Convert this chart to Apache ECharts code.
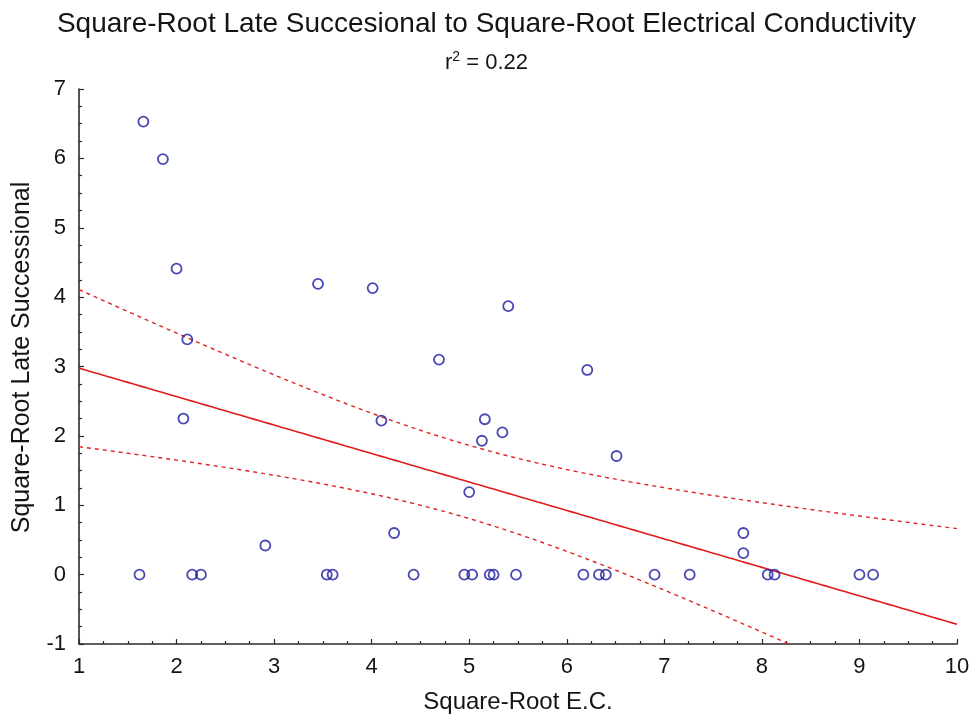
<!DOCTYPE html>
<html>
<head>
<meta charset="utf-8">
<title>Square-Root Late Succesional to Square-Root Electrical Conductivity</title>
<script src="https://cdn.jsdelivr.net/npm/echarts@6/dist/echarts.min.js"></script>
<style>
  html, body { margin: 0; padding: 0; background: #ffffff; }
  #chart { width: 973px; height: 721px; }
</style>
</head>
<body>
<div id="chart"></div>
<script>
// Square-root electrical conductivity (x) and square-root late successional cover (y), one entry per plot
const sqrtEC = [
  1.62, 2.16, 2.25, 3.54, 3.60, 4.43, 4.95, 5.03, 5.21, 5.25,
  5.48, 6.17, 6.33, 6.40, 6.90, 7.26, 8.06, 8.13, 9.00, 9.14,
  1.66, 1.86, 2.00, 2.11, 2.07, 2.91, 3.45, 4.01, 4.10, 4.23,
  4.69, 5.00, 5.13, 5.16, 5.34, 5.40, 6.21, 6.51, 7.81, 7.81
];
const sqrtLateSucc = [
  0, 0, 0, 0, 0, 0, 0, 0, 0, 0,
  0, 0, 0, 0, 0, 0, 0, 0, 0, 0,
  6.53, 5.99, 4.41, 3.39, 2.25, 0.42, 4.19, 4.13, 2.22, 0.60,
  3.10, 1.19, 1.93, 2.24, 2.05, 3.87, 2.95, 1.71, 0.60, 0.31
];

// Axis ranges and tick steps
const xTicks = [1, 10, 1];   // min, max, step
const yTicks = [-1, 7, 1];

// Two-sided 95% Student t value for n - 2 = 38 degrees of freedom
const T_CRIT = 2.024;

const titleText = 'Square-Root Late Succesional to Square-Root Electrical Conductivity';
const xName = 'Square-Root E.C.';
const yName = 'Square-Root Late Successional';

// Least-squares fit with a 95% confidence band for the mean
function linearFit(xs, ys) {
  const n = xs.length;
  const mx = xs.reduce((a, b) => a + b, 0) / n;
  const my = ys.reduce((a, b) => a + b, 0) / n;
  let sxx = 0, sxy = 0, syy = 0;
  for (let i = 0; i < n; i++) {
    sxx += (xs[i] - mx) ** 2;
    sxy += (xs[i] - mx) * (ys[i] - my);
    syy += (ys[i] - my) ** 2;
  }
  const slope = sxy / sxx;
  const intercept = my - slope * mx;
  const s = Math.sqrt((syy - slope * sxy) / (n - 2));
  const r2 = (sxy * sxy) / (sxx * syy);
  return { n, mx, sxx, slope, intercept, s, r2 };
}

const fit = linearFit(sqrtEC, sqrtLateSucc);
const fitLine = [], upperBand = [], lowerBand = [];
for (let k = 0; k <= 180; k++) {
  const x = xTicks[0] + k * (xTicks[1] - xTicks[0]) / 180;
  const yh = fit.intercept + fit.slope * x;
  const half = T_CRIT * fit.s * Math.sqrt(1 / fit.n + (x - fit.mx) ** 2 / fit.sxx);
  fitLine.push([x, yh]);
  upperBand.push([x, yh + half]);
  lowerBand.push([x, yh - half]);
}

const FONT = "Arial, 'Liberation Sans', sans-serif";
const TEXT = '#141414';
const AXIS = '#2a2a2a';

const chart = echarts.init(document.getElementById('chart'), null, { renderer: 'canvas' });

chart.setOption({
  animation: false,
  backgroundColor: '#ffffff',
  title: {
    text: titleText,
    left: 'center',
    top: 5,
    itemGap: 12,
    textStyle: { fontFamily: FONT, fontSize: 28, fontWeight: 'normal', color: TEXT },
    subtext: 'r{sup|2} = ' + fit.r2.toFixed(2),
    subtextStyle: {
      fontFamily: FONT, fontSize: 22, color: TEXT, lineHeight: 26,
      rich: { sup: { fontFamily: FONT, fontSize: 14, color: TEXT, verticalAlign: 'top', lineHeight: 26 } }
    }
  },
  grid: {
    left: 79, right: 16, top: 89, bottom: 77,
    containLabel: false,
    outerBoundsMode: 'none'
  },
  xAxis: {
    type: 'value',
    min: xTicks[0], max: xTicks[1], interval: xTicks[2],
    name: xName,
    nameLocation: 'middle',
    nameGap: 46,
    nameTextStyle: { fontFamily: FONT, fontSize: 24, color: TEXT },
    axisLine: { show: true, onZero: false, lineStyle: { color: AXIS, width: 1.6 } },
    axisTick: { show: true, inside: true, length: 5, lineStyle: { color: AXIS, width: 1.2 } },
    minorTick: { show: true, splitNumber: 4, length: 3, lineStyle: { color: AXIS, width: 1.2 } },
    splitLine: { show: false },
    minorSplitLine: { show: false },
    axisLabel: { fontFamily: FONT, fontSize: 22, color: TEXT, margin: 12, showMinLabel: true, showMaxLabel: true }
  },
  yAxis: {
    type: 'value',
    min: yTicks[0], max: yTicks[1], interval: yTicks[2],
    name: yName,
    nameLocation: 'middle',
    nameGap: 44,
    nameTextStyle: { fontFamily: FONT, fontSize: 25, color: TEXT, padding: [0, 0, 0, 18] },
    axisLine: { show: true, onZero: false, lineStyle: { color: AXIS, width: 1.6 } },
    axisTick: { show: true, inside: true, length: 5, lineStyle: { color: AXIS, width: 1.2 } },
    minorTick: { show: true, splitNumber: 4, length: 3, lineStyle: { color: AXIS, width: 1.2 } },
    splitLine: { show: false },
    minorSplitLine: { show: false },
    axisLabel: { fontFamily: FONT, fontSize: 22, color: TEXT, margin: 13, showMinLabel: true, showMaxLabel: true }
  },
  series: [
    {
      name: 'Upper 95%',
      type: 'line',
      data: upperBand,
      showSymbol: false,
      clip: true,
      lineStyle: { color: '#e02424', width: 1.4, type: [4, 4] },
      z: 2
    },
    {
      name: 'Lower 95%',
      type: 'line',
      data: lowerBand,
      showSymbol: false,
      clip: true,
      lineStyle: { color: '#e02424', width: 1.4, type: [4, 4] },
      z: 2
    },
    {
      name: 'Fit',
      type: 'line',
      data: fitLine,
      showSymbol: false,
      clip: true,
      lineStyle: { color: '#e01c1c', width: 1.6 },
      z: 3
    },
    {
      name: 'Plots',
      type: 'scatter',
      data: sqrtEC.map((x, i) => [x, sqrtLateSucc[i]]),
      symbol: 'circle',
      symbolSize: 10,
      itemStyle: { color: 'rgba(255,255,255,0)', borderColor: '#1a1aa0', borderWidth: 1.8 },
      z: 4
    }
  ]
});
</script>
</body>
</html>
